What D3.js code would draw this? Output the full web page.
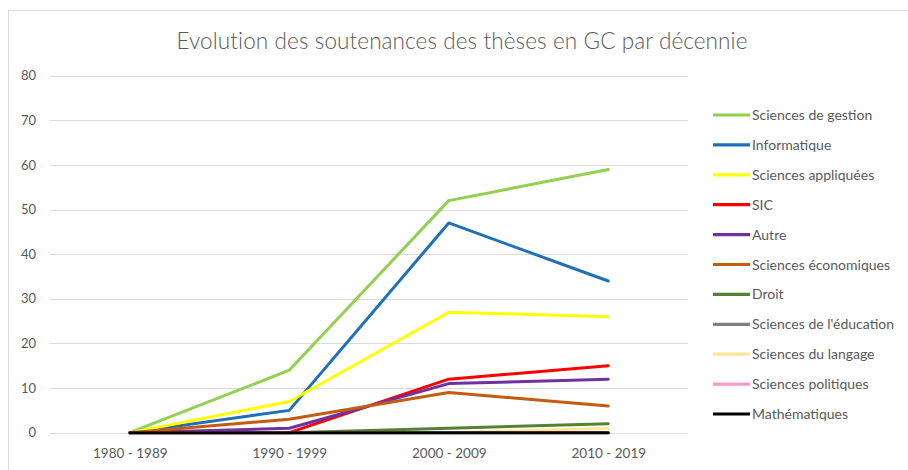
<!DOCTYPE html>
<html>
<head>
<meta charset="utf-8">
<script src="https://cdn.jsdelivr.net/npm/d3@7"></script>
<style>
  html, body { margin: 0; padding: 0; background: #fff; }
  svg { display: block; }
  text { font-family: Lato, "Open Sans", sans-serif; fill: #595959; }
</style>
</head>
<body>
<svg id="chart" width="908" height="470"></svg>
<script>
// Decades on the x axis
const decades = ["1980 - 1989", "1990 - 1999", "2000 - 2009", "2010 - 2019"];

// Number of theses defended per discipline and decade
const gestion      = [0, 14, 52, 59];
const informatique = [0, 5, 47, 34];
const appliquees   = [0, 7, 27, 26];
const sic          = [0, 0, 12, 15];
const autre        = [0, 1, 11, 12];
const economiques  = [0, 3, 9, 6];
const droit        = [0, 0, 1, 2];
const education    = [0, 0, 0, 0];
const langage      = [0, 0, 0, 1];
const politiques   = [0, 0, 0, 0];
const mathematiques = [0, 0, 0, 0];

const seriesNames = [
  "Sciences de gestion", "Informatique", "Sciences appliquées", "SIC", "Autre",
  "Sciences économiques", "Droit", "Sciences de l'éducation", "Sciences du langage",
  "Sciences politiques", "Mathématiques"
];
const seriesValues = [
  gestion, informatique, appliquees, sic, autre, economiques,
  droit, education, langage, politiques, mathematiques
];
const seriesColors = [
  "#92d050", "#1f70b8", "#ffff00", "#ff0000", "#7030a0", "#c55a11",
  "#548235", "#808080", "#ffe699", "#ff99cc", "#000000"
];
const yTicks = [0, 10, 20, 30, 40, 50, 60, 70, 80];

const svg = d3.select("#chart");

// Outer frame of the chart area
svg.append("rect")
  .attr("x", 8.5).attr("y", 10.5)
  .attr("width", 920).attr("height", 480)
  .attr("fill", "#fff")
  .attr("stroke", "#d9d9d9");

// Title
svg.append("text")
  .attr("x", 462).attr("y", 49)
  .attr("text-anchor", "middle")
  .style("font-size", "22.5px")
  .style("font-weight", 300)
  .style("letter-spacing", "0.1px")
  .text("Evolution des soutenances des thèses en GC par décennie");

const plot = { left: 50, right: 688, top: 75.7, bottom: 432.7 };

const x = d3.scalePoint()
  .domain(decades)
  .range([plot.left, plot.right])
  .padding(0.5);

const y = d3.scaleLinear()
  .domain([0, 80])
  .range([plot.bottom, plot.top]);

// Horizontal gridlines
svg.append("g")
  .selectAll("line")
  .data(yTicks)
  .join("line")
  .attr("x1", plot.left).attr("x2", plot.right)
  .attr("y1", d => Math.round(y(d)) + 0.5)
  .attr("y2", d => Math.round(y(d)) + 0.5)
  .attr("stroke", "#d9d9d9")
  .attr("stroke-width", 1);

// Y axis labels
const yAxis = d3.axisLeft(y).tickValues(yTicks).tickSize(0).tickPadding(0);
svg.append("g")
  .attr("transform", `translate(36,0)`)
  .call(yAxis)
  .call(g => g.select(".domain").remove())
  .call(g => g.selectAll("text")
    .style("font-family", "Lato, 'Open Sans', sans-serif")
    .style("font-size", "13px")
    .attr("fill", "#595959"));

// X axis labels
const xAxis = d3.axisBottom(x).tickSize(0).tickPadding(0);
svg.append("g")
  .attr("transform", `translate(0,${plot.bottom})`)
  .call(xAxis)
  .call(g => g.select(".domain").remove())
  .call(g => g.selectAll("text")
    .attr("dy", null)
    .attr("y", 25)
    .style("font-family", "Lato, 'Open Sans', sans-serif")
    .style("font-size", "13.5px")
    .attr("fill", "#595959"));

// Series lines
const line = d3.line()
  .x((d, i) => x(decades[i]))
  .y(d => y(d));

svg.append("g")
  .selectAll("path")
  .data(seriesValues)
  .join("path")
  .attr("d", d => line(d))
  .attr("fill", "none")
  .attr("stroke", (d, i) => seriesColors[i])
  .attr("stroke-width", 3)
  .attr("stroke-linejoin", "round")
  .attr("stroke-linecap", "round");

// Legend
const legend = svg.append("g");
const rowY = d3.scaleLinear().domain([0, seriesNames.length - 1]).range([115, 414]);
const items = legend.selectAll("g")
  .data(seriesNames)
  .join("g")
  .attr("transform", (d, i) => `translate(0,${rowY(i)})`);
items.append("line")
  .attr("x1", 713).attr("x2", 750)
  .attr("y1", 0).attr("y2", 0)
  .attr("stroke", (d, i) => seriesColors[i])
  .attr("stroke-width", 3.2);
items.append("text")
  .attr("x", 752).attr("y", 5)
  .style("font-size", "14px")
  .text(d => d);
</script>
</body>
</html>
